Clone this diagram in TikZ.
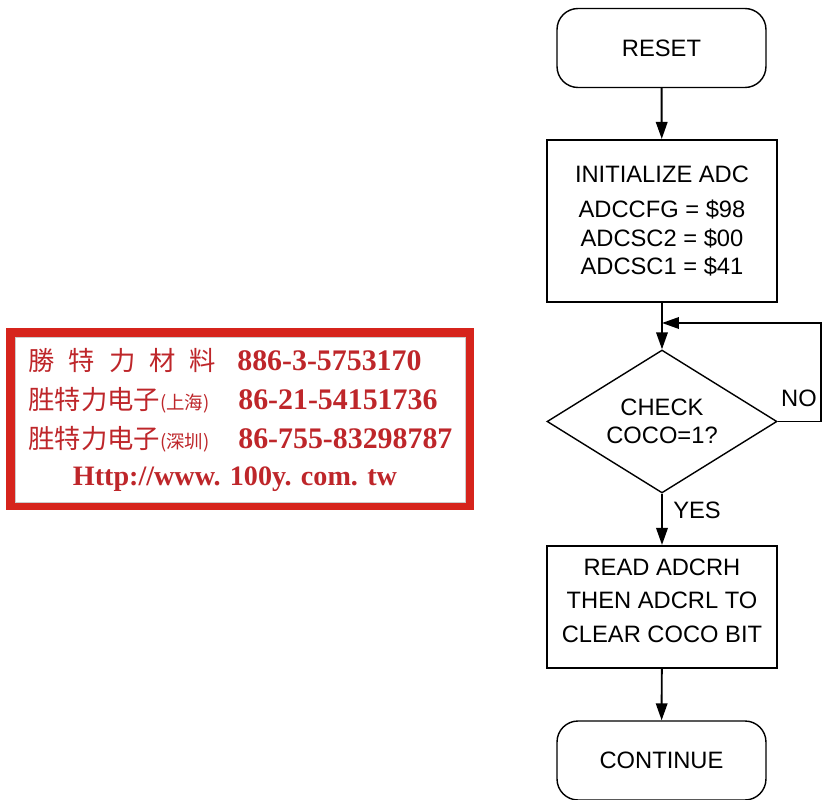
\documentclass[tikz,border=0pt]{standalone}
\usepackage{fontspec}
\setmainfont{Liberation Sans}
\newfontfamily\cjk{Noto Sans CJK TC}
\newfontfamily\stampserif{Liberation Serif}
\usepackage{xcolor}
\usetikzlibrary{arrows.meta, positioning, shapes.geometric}
\definecolor{stampred}{RGB}{214,36,28}
\definecolor{stampink}{RGB}{190,38,42}

\begin{document}
\begin{tikzpicture}[
  x=0.02cm, y=-0.02cm,
  every node/.style={font=\fontsize{13.5}{16}\selectfont},
  term/.style={draw, line width=0.8pt, rounded corners=0.42cm,
               minimum width=4.18cm, minimum height=1.58cm},
  proc/.style={draw, line width=1.2pt, align=center, minimum width=4.6cm},
  decide/.style={draw, diamond, line width=0.8pt, align=center, aspect=1.6,
                 minimum width=4.6cm, minimum height=2.86cm, inner sep=0pt},
  arr/.style={-{Triangle[length=3.4mm, width=2.3mm]}, line width=1.1pt},
  stampcjk/.style={anchor=west, inner sep=0pt, text=stampink,
                   font=\cjk\fontsize{15}{15}\selectfont},
  stampnum/.style={anchor=west, inner sep=0pt, text=stampink,
                   font=\stampserif\bfseries\fontsize{17}{17}\selectfont}
]
  \useasboundingbox (0,0) rectangle (823,800);

  % stamp
  \fill[stampred] (6,328) rectangle (474,510);
  \draw[fill=white, draw=black!20, line width=0.3pt] (15,337) rectangle (465,502);
  \node[stampcjk] (co1) at (28,361)
    {勝\hspace{8pt}特\hspace{8pt}力\hspace{8pt}材\hspace{8pt}料};
  \node[stampnum] (tel1) at (237,361) {886-3-5753170};
  \node[stampcjk] (co2) at (28,400)
    {胜特力电子{\fontsize{10.5}{10.5}\selectfont(上海)}};
  \node[stampnum] (tel2) at (238,400) {86-21-54151736};
  \node[stampcjk] (co3) at (28,439)
    {胜特力电子{\fontsize{10.5}{10.5}\selectfont(深圳)}};
  \node[stampnum] (tel3) at (238,439) {86-755-83298787};
  \node[stampnum, anchor=center, font=\stampserif\bfseries\fontsize{16}{16}\selectfont]
    (web) at (235,479) {Http://www. 100y. com. tw};

  % flowchart
  \node[term] (reset) at (661.5,48) {RESET};
  \node[proc, minimum height=3.24cm] (init) at (662,221)
    {INITIALIZE ADC\\[4pt] ADCCFG = \$98\\ ADCSC2 = \$00\\ ADCSC1 = \$41};
  \node[decide] (check) at (662,421.5) {CHECK\\COCO=1?};
  \node[proc, minimum height=2.44cm] (read) at (662,607)
    {READ ADCRH\\[3pt] THEN ADCRL TO\\[3pt] CLEAR COCO BIT\\[-8.5pt]};
  \node[term] (cont) at (661.5,760.5) {CONTINUE};
  \node (yes) at (697,510) {YES};
  \node (no) at (799,398) {NO};

  \coordinate (noturn) at (821,421.5);
  \coordinate (noin) at (662,323);

  \draw[arr] (reset) -- (init);
  \draw[arr] (init) -- (check);
  \draw[arr] (check) -- (read);
  \draw[arr] (read) -- (cont);
  \draw[arr] (check.east) -- (noturn) |- (noin);
\end{tikzpicture}
\end{document}
